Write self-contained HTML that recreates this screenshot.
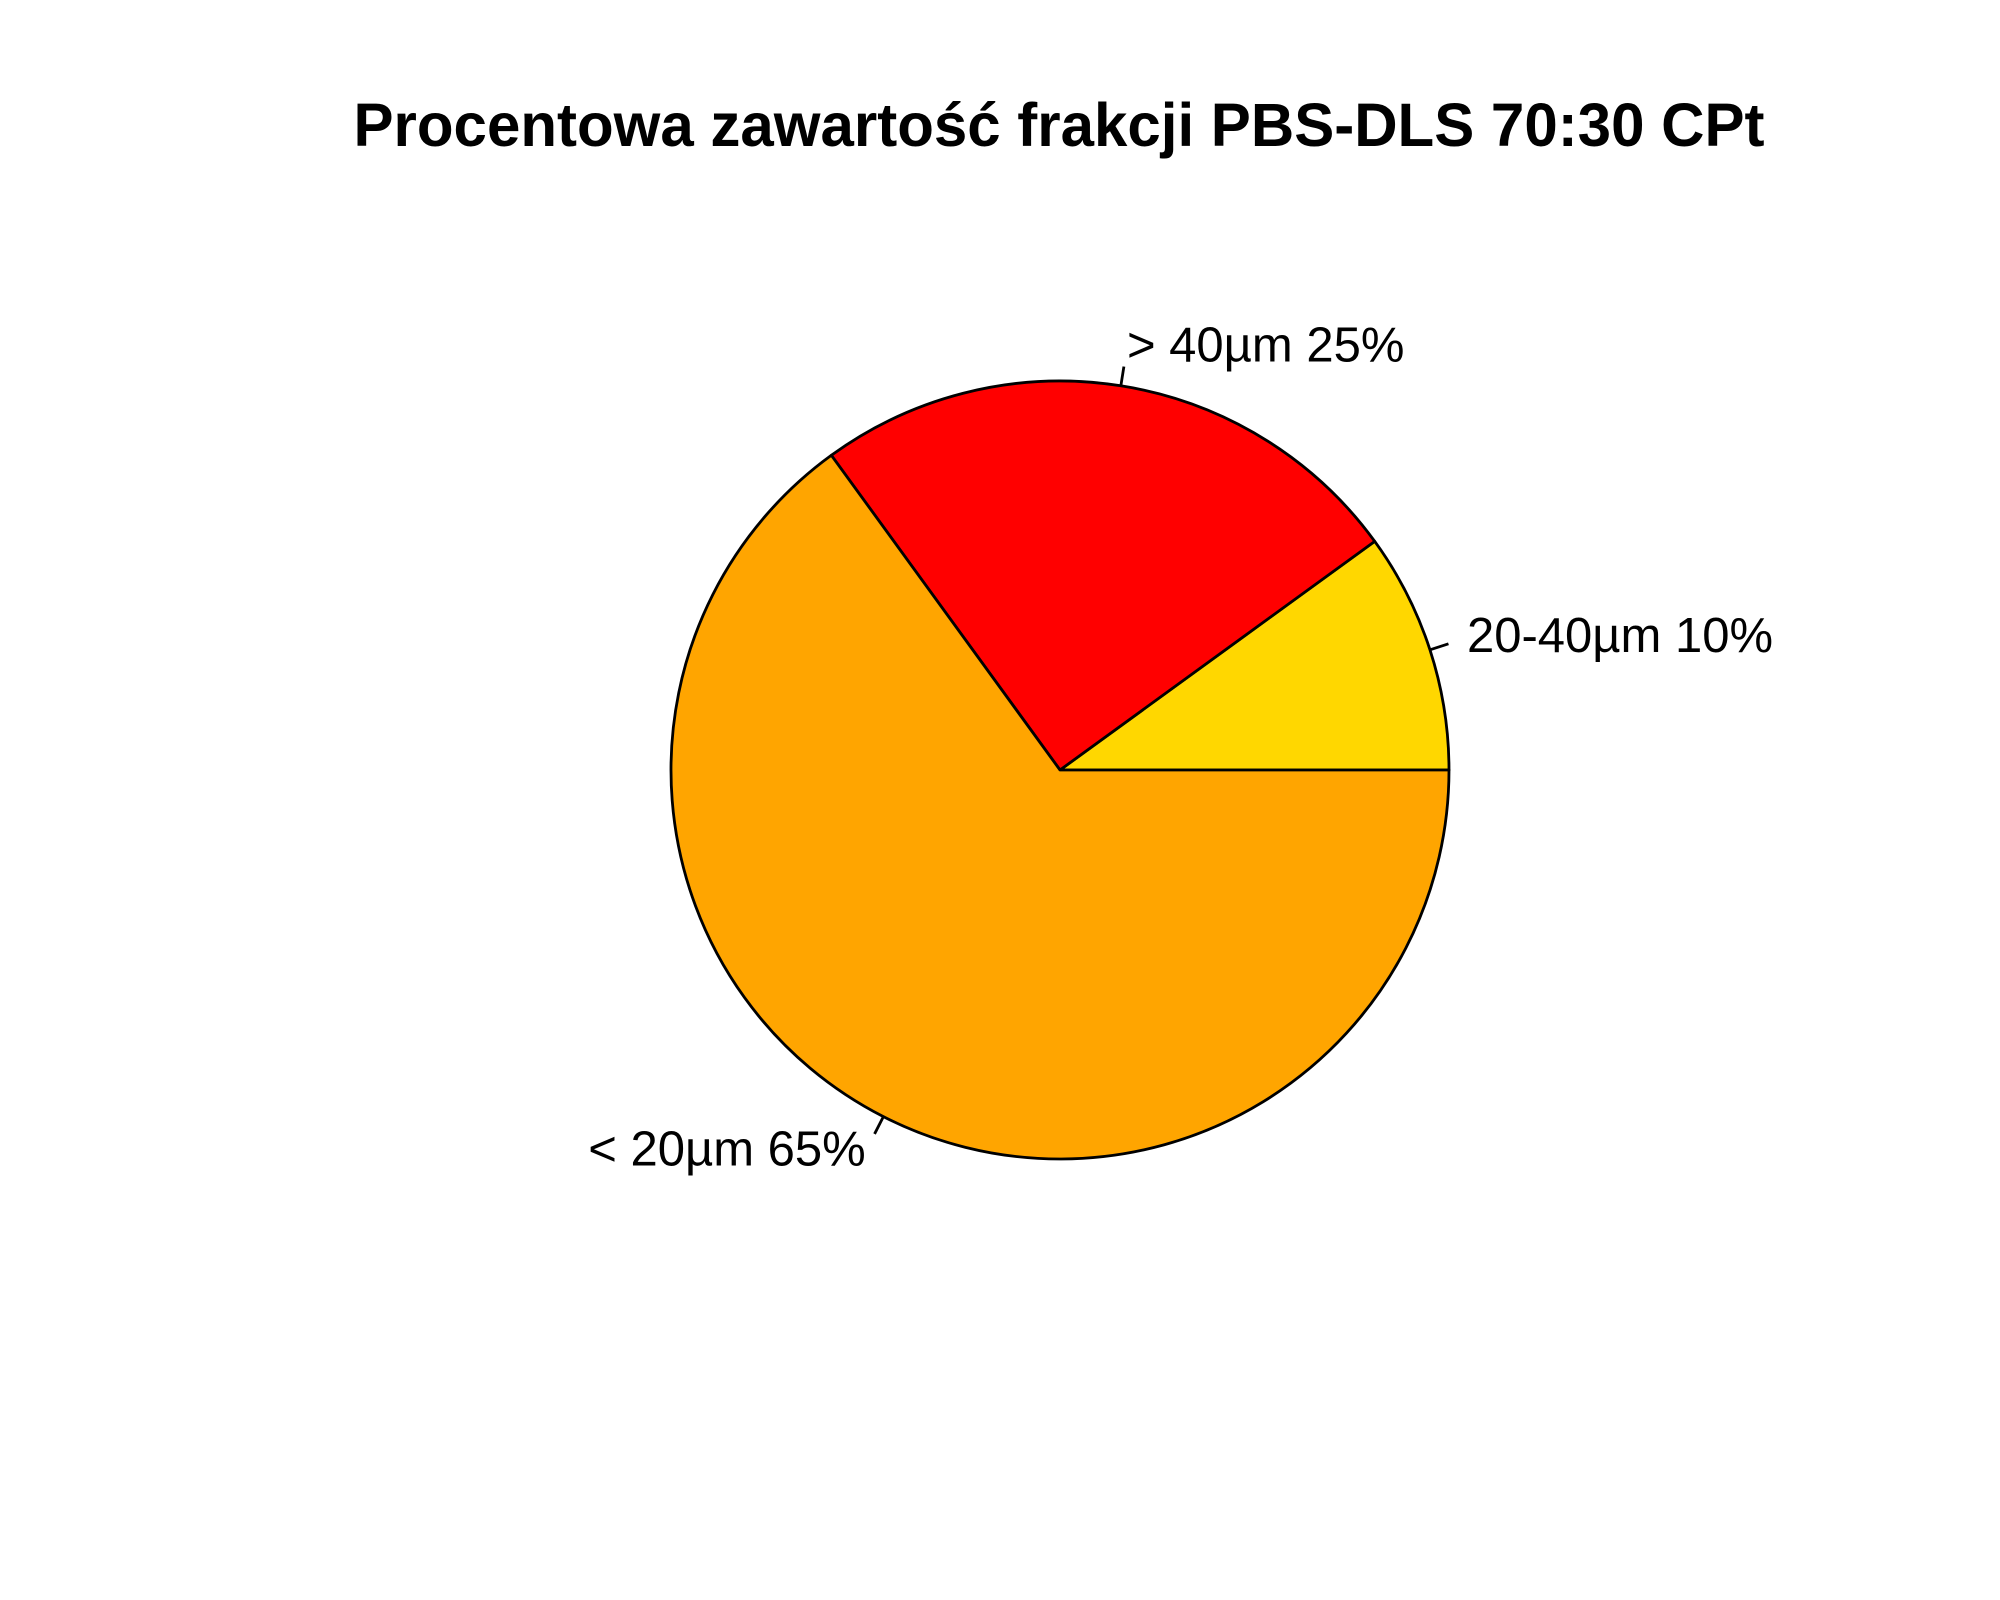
<!DOCTYPE html>
<html><head><meta charset="utf-8"><style>html,body{margin:0;padding:0;background:#fff;}svg{display:block}</style></head>
<body>
<svg id="chart" width="2000" height="1600" viewBox="0 0 2000 1600" xmlns="http://www.w3.org/2000/svg">
<rect width="2000" height="1600" fill="#fff"/>
<text x="1059" y="146" text-anchor="middle" font-family="Liberation Sans, sans-serif" font-weight="bold" font-size="61" textLength="1411" lengthAdjust="spacingAndGlyphs">Procentowa zawartość frakcji PBS-DLS 70:30 CPt</text>
<g id="slices"></g>
<g id="labels"></g>
</svg>
<script>
const categories = ["20-40µm", "> 40µm", "< 20µm"];
const values = [10, 25, 65];
const labelsText = ["20-40µm 10%", "> 40µm 25%", "< 20µm 65%"];
const colors = ["#FFD700", "#FF0000", "#FFA500"];

const cx = 1060, cy = 770, r = 389;
const NS = "http://www.w3.org/2000/svg";
const total = values.reduce((a,b)=>a+b,0);
function angleOf(v){ return v/total*2*Math.PI; }
function pt(a, rr){ return [cx + rr*Math.cos(a), cy - rr*Math.sin(a)]; }
const gS = document.getElementById("slices"), gL = document.getElementById("labels");
let start = 0;
values.forEach((v,i)=>{
  const end = start + angleOf(v);
  const p0 = pt(start, r), p1 = pt(end, r);
  const large = (end-start) > Math.PI ? 1 : 0;
  const path = document.createElementNS(NS, "path");
  path.setAttribute("d", `M${cx},${cy} L${p0[0]},${p0[1]} A${r},${r} 0 ${large} 0 ${p1[0]},${p1[1]} Z`);
  path.setAttribute("fill", colors[i]);
  path.setAttribute("stroke", "#000");
  path.setAttribute("stroke-width", "2.8");
  path.setAttribute("stroke-linejoin", "round");
  
  
  gS.appendChild(path);
  const mid = (start+end)/2;
  const a = pt(mid, r), b = pt(mid, r*1.05), t = pt(mid, r*1.1);
  const ln = document.createElementNS(NS, "line");
  ln.setAttribute("x1", a[0]); ln.setAttribute("y1", a[1]);
  ln.setAttribute("x2", b[0]); ln.setAttribute("y2", b[1]);
  ln.setAttribute("stroke", "#000"); ln.setAttribute("stroke-width", "2.8");
  
  
  gL.appendChild(ln);
  const tx = document.createElementNS(NS, "text");
  tx.setAttribute("x", t[0]); tx.setAttribute("y", t[1] + 14);
  tx.setAttribute("text-anchor", Math.cos(mid) >= 0 ? "start" : "end");
  tx.setAttribute("font-family", "Liberation Sans, sans-serif");
  tx.setAttribute("font-size", "49");
  tx.textContent = labelsText[i];
  
  
  gL.appendChild(tx);
  start = end;
});
</script>
</body></html>
